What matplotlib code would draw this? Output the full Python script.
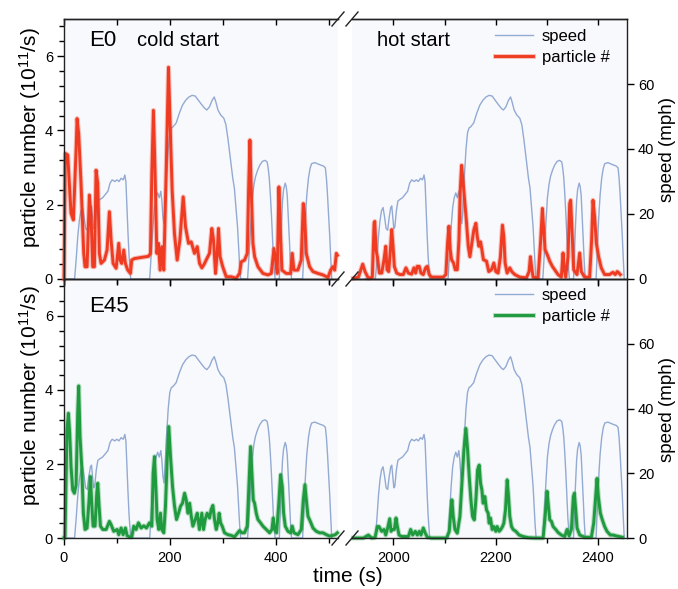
import matplotlib
matplotlib.use("Agg")
import matplotlib.pyplot as plt
import matplotlib.patheffects as pe
from matplotlib.ticker import MultipleLocator, FixedLocator, NullFormatter
from matplotlib.lines import Line2D

plt.rcParams["font.family"] = ["Liberation Sans", "DejaVu Sans"]
plt.rcParams["mathtext.default"] = "regular"

# ---------------- data ----------------
# FTP-75 driving speed (mph) versus cycle time (s)
speed_t = [0, 20, 23, 26, 29, 32, 35, 38, 41, 44, 47, 50, 52, 54, 56, 58, 61, 64, 68, 73, 78, 83, 87, 91,
           96, 100, 104, 108, 112, 115, 117, 119, 121, 123, 125, 126,
           162, 165, 168, 171, 174, 177, 180, 183, 185, 187, 189, 191, 194, 197, 200, 203, 206, 212, 218,
           224, 230, 236, 242, 248, 254, 260, 266, 270, 275, 280, 284, 287, 291, 296, 302, 306, 310, 313,
           316, 319, 322, 325, 328, 330, 332, 334,
           347, 350, 353, 356, 359, 362, 366, 370, 375, 380, 384, 386, 388, 390, 392, 394, 396, 398, 399,
           407, 409, 411, 413, 415, 418, 420, 422, 424, 426, 428, 430,
           451, 453, 455, 457, 459, 462, 465, 468, 474, 480, 486, 490, 494, 496, 498, 500, 502, 504, 506]
speed_v = [0, 0, 6, 13, 18, 21, 22, 19, 15.5, 15, 19, 22, 22.5, 19, 15.5, 16, 21, 24, 24.5, 25, 26, 27, 29.5, 30.5,
           30, 30.5, 30, 31, 30.5, 32, 30, 22, 14, 7, 2, 0,
           0, 8, 16, 22, 25, 26.5, 25, 27, 24, 19, 17, 22, 32, 40, 45, 46.5, 46.8, 48, 51,
           53.5, 55, 56, 56.5, 56.3, 55, 53.7, 52.5, 52, 53, 55, 56, 54.5, 52, 50.5, 49.5, 47.5, 43, 39,
           35, 31, 28, 22, 16, 10, 4, 0,
           0, 8, 17, 25, 29, 31.5, 33.5, 35, 36.2, 36.5, 36, 34, 31, 26, 20, 13, 6, 2, 0,
           0, 9, 17, 24, 27.5, 29.5, 28.5, 25.5, 19, 12, 5, 0,
           0, 7, 15, 21, 26, 31, 34, 35.5, 35.8, 35.4, 35, 34.8, 34.2, 31, 26, 20, 14, 7, 0]
hot_offset = 1945  # start of the hot-start phase on the time axis (s)

# E0 particle number (1e11 /s), cold start
e0_cold_t = [0, 2.5, 7, 13.3, 17.7, 22.8, 24.7, 27.8, 32.2, 37.3, 39.8, 43.6, 48, 51.2, 54.3, 57.5, 60.6,
             63.8, 66.9, 70, 76.4, 81.4, 85.8, 89, 92.8, 98.5, 103.5, 106, 109, 113, 116, 120.5, 125.6, 128,
             133, 145.8, 159.6, 163.4, 166, 169, 172.2, 175.4, 178.5, 181.7, 184.9, 188.6, 193, 197.5,
             200.6, 204.4, 208.8, 213.9, 219, 225.3, 229.7, 235.4, 240.4, 246.7, 251.8, 256.2, 260.6, 265,
             268.7, 275, 279.4, 282.6, 286.4, 289.5, 292, 295, 300, 306.6, 316, 325.5, 331.8, 335, 341.3,
             346.4, 348.9, 351.4, 354, 357.1, 360.3, 366.6, 376, 385.5, 391.8, 396.8, 400, 403, 406.2,
             408.7, 411.9, 420, 428.3, 431.4, 434.5, 442, 448.4, 452.2, 454.7, 457.9, 464.2, 470.5, 480,
             489.4, 498.9, 504, 508.4, 511.6, 514.7, 516.6]
e0_cold_v = [0, 3.38, 3.34, 1.77, 1.59, 3.47, 4.32, 3.9, 2.57, 0.69, 0.33, 0.33, 2.26, 1.67, 0.33, 0.33, 2.93,
             2.57, 0.69, 0.42, 0.51, 0.78, 1.81, 1.05, 0.42, 0.29, 0.96, 0.51, 0.42, 0.78, 0.42, 0.24, 0.15, 0.51,
             0.55, 0.58, 0.61, 0.69, 2.84, 4.54, 2.84, 0.69, 0.96, 0.24, 0.87, 0.24, 2.84, 5.7,
             4.18, 2.39, 1.22, 0.51, 1.05, 2.21, 1.4, 0.96, 1.0, 0.69, 0.87, 0.42, 0.3, 0.4,
             0.51, 0.69, 1.36, 1.05, 0.15, 0.69, 1.36, 0.6, 0.33, 0.06, 0.06, 0.02, 0.15, 0.46, 0.51,
             0.69, 2.39, 3.74, 2.39, 0.96, 0.6, 0.33, 0.15, 0.11, 0.15, 0.82, 0.51, 0.15, 2.48,
             1.4, 0.24, 0.15, 0.15, 0.69, 0.24, 0.24, 0.51, 2.03, 1.75, 0.69, 0.33, 0.2, 0.15,
             0.11, 0.04, 0.24, 0.33, 0.24, 0.69, 0.64]

# E0 particle number, hot start
e0_hot_t = [1922, 1931.8, 1940.3, 1944.8, 1951.3, 1959, 1962.5, 1963.8, 1966.3, 1968.9, 1972.8, 1977.4,
            1981.9, 1985.2, 1987.8, 1991, 1994.3, 1996.9, 1999.5, 2002, 2006.6, 2013, 2019.5, 2024.7,
            2029.3, 2035.8, 2040.3, 2043.6, 2046.8, 2050.7, 2054, 2058.5, 2063, 2066.3, 2070.2, 2074.7,
            2084.5, 2097.5, 2102.7, 2106, 2108.6, 2111.2, 2113.8, 2117.7, 2121, 2124.9, 2128.2, 2130.8,
            2133.4, 2136.6, 2139.9, 2143.1, 2146.4, 2149.6, 2153.5, 2157.4, 2161.3, 2163.9, 2167.2,
            2170.4, 2173, 2176, 2182, 2186.5, 2191.7, 2196.3, 2200.2, 2204.7, 2209.2, 2213.2, 2215.8,
            2218.4, 2222.3, 2227.5, 2231.4, 2237.3, 2247, 2260, 2265.2, 2267.8, 2270.4, 2273, 2282.7,
            2287.9, 2291.2, 2293.8, 2296.4, 2300.9, 2305.5, 2310.7, 2315.2, 2321.7, 2328.2, 2331.5,
            2334.1, 2336.7, 2341.2, 2344.5, 2346.4, 2349, 2352.3, 2358.8, 2364, 2367.2, 2373.7, 2383.5,
            2387.4, 2390, 2393.2, 2396.5, 2401, 2406.2, 2412.7, 2422.4, 2429, 2433.5, 2437.4, 2440.7,
            2443.3]
e0_hot_v = [0.02, 0.05, 0.4, 0.2, 0.02, 0.05, 1.5, 1.55, 0.78, 0.6, 0.16, 0.16,
            0.52, 0.88, 0.25, 0.2, 0.78, 1.33, 0.88, 0.34, 0.16, 0.12, 0.12, 0.3,
            0.16, 0.13, 0.3, 0.16, 0.34, 0.34, 0.16, 0.12, 0.3, 0.34, 0.12, 0.05,
            0.05, 0.05, 0.12, 0.97, 1.42, 0.79, 0.52, 0.43, 0.25, 0.25, 1.05, 2.39,
            3.06, 2.57, 2.03, 1.5, 0.88, 0.6, 0.97, 1.33, 1.5, 1.15, 0.88,
            1.0, 0.79, 0.52, 0.48, 0.2, 0.25, 0.43, 0.2, 0.16, 0.6, 1.45, 1.15,
            0.43, 0.16, 0.3, 0.2, 0.12, 0.05, 0.03, 0.2, 0.6, 0.3, 0.05, 0.03,
            1.05, 1.9, 1.33, 0.79, 0.65, 0.48, 0.34, 0.25, 0.12, 0.05, 0.7,
            0.25, 0.05, 0.6, 2.03, 2.12, 1.33, 0.25, 0.12, 0.7, 0.2, 0.05, 0.05,
            1.05, 2.12, 1.68, 0.97, 0.6, 0.3, 0.12, 0.12, 0.18, 0.12, 0.2, 0.16,
            0.12]

# E45 particle number, cold start
e45_cold_t = [0, 1.9, 5.7, 8.3, 10.8, 13.3, 16.5, 19.6, 22.8, 25.9, 27.8, 30.3, 33.5, 36.6, 39.8, 43.6,
              47.4, 49.9, 52.4, 55, 58.7, 61.9, 63.8, 66.3, 68.9, 73.3, 79.6, 85.8, 89, 94, 100.4, 103.5,
              108, 111.7, 116.1, 119.3, 123.7, 128.1, 131.9, 136.3, 140.7, 145.8, 150.8, 155.8, 161.5,
              166, 168.5, 171, 173.5, 176, 179.2, 182.3, 184.9, 188.6, 191.8, 195, 198.1, 201.3, 205.1,
              208.9, 212.7, 216.5, 220.3, 224, 227.9, 231, 234.2, 237.4, 240.5, 243.6, 248.1, 251.8, 256,
              260.5, 263.7, 266.8, 270.6, 275, 278.2, 281.4, 284.5, 287.7, 290.8, 293.3, 295.9, 299,
              303.4, 309.7, 316, 322.3, 328.6, 331.8, 336.2, 341.2, 346.3, 349.5, 352.6, 355.1, 357.7,
              360.2, 363.4, 366.5, 371.5, 376, 382.3, 388.6, 393, 395.5, 398, 401.8, 405.6, 409.4, 412.5,
              415.1, 418.2, 423.3, 428.3, 431.4, 434.6, 442.2, 448.5, 452.3, 455.4, 458, 461.1, 465.5,
              470.6, 476.9, 483.2, 489.5, 495.8, 502.1, 508.4, 512.8, 516.6]
e45_cold_v = [0, 0, 2.92, 3.37, 2.83, 1.93, 1.3, 1.21, 1.43, 3.37, 4.11, 2.74, 1.93, 0.67, 0.23, 0.27,
              1.03, 1.66, 0.94, 0.32, 0.32, 1.21, 1.48, 0.86, 0.32, 0.23, 0.23, 0.45, 0.36, 0.18, 0.23, 0.09,
              0.27, 0.09, 0.27, 0.06, 0.03, 0.03, 0.32, 0.23, 0.41, 0.27, 0.33, 0.27, 0.41,
              0.32, 1.75, 2.2, 1.39, 0.5, 0.23, 0.67, 0.23, 0.14, 0.86, 2.11, 3.01, 2.2, 1.39,
              0.86, 0.5, 0.67, 0.86, 0.94, 1.21, 1.03, 0.67, 0.94, 0.59, 0.32, 0.5, 0.67, 0.23,
              0.67, 0.23, 0.5, 0.67, 0.54, 0.77, 0.88, 0.5, 0.23, 0.41, 0.67, 0.41, 0.32,
              0.14, 0.09, 0.07, 0.03, 0.14, 0.2, 0.14, 0.14, 0.32, 1.39, 2.47, 1.75, 1.03,
              0.94, 0.67, 0.5, 0.41, 0.32, 0.23, 0.14, 0.23, 0.54, 0.23, 0.14, 0.86, 1.71, 1.39,
              0.67, 0.32, 0.18, 0.14, 0.32, 0.14, 0.09, 0.23, 1.03, 1.44, 1.03, 0.59, 0.45,
              0.27, 0.18, 0.14, 0.14, 0.09, 0.05, 0.07, 0.09, 0.14]

# E45 particle number, hot start
e45_hot_t = [1922, 1941.6, 1951.3, 1957.8, 1964.3, 1968.9, 1972.1, 1977.3, 1981.9, 1985.2, 1989, 1993,
             1995.6, 1998.2, 2002, 2005.3, 2007.9, 2011.2, 2016.4, 2022.9, 2029.4, 2033.9, 2037.8, 2043,
             2046.9, 2050.8, 2054.1, 2058.6, 2062.5, 2066.4, 2074.9, 2091.1, 2104.1, 2109.3, 2112.6,
             2114.5, 2117.1, 2120.4, 2124.9, 2130.1, 2134, 2137.9, 2141.8, 2145.1, 2148.3, 2151.6,
             2154.8, 2158.1, 2161.3, 2164.6, 2167.8, 2170.4, 2173, 2175.5, 2178.8, 2182, 2185.3, 2187.2,
             2189.8, 2193.1, 2196.3, 2200.2, 2202.8, 2206.8, 2210, 2213.3, 2215.9, 2219.1, 2222.4, 2225,
             2227.6, 2230.9, 2234.1, 2239.3, 2245.8, 2253.6, 2263.4, 2276.4, 2292.6, 2296.5, 2300.4,
             2303, 2305.6, 2308.9, 2312.1, 2317.3, 2321.8, 2328.3, 2334.8, 2339.4, 2343.3, 2347.8,
             2351.7, 2353.7, 2356.3, 2358.9, 2364.1, 2373.8, 2386.8, 2391.4, 2395.3, 2397.9, 2400.5,
             2404.4, 2408.3, 2412.8, 2417.4, 2423.9, 2429.1, 2434.3, 2440.8, 2447.3]
e45_hot_v = [0, 0, 0.08, 0, 0.01, 0.31, 0.31, 0.18, 0.23, 0.08, 0.27, 0.52,
             0.18, 0.23, 0.23, 0.54, 0.31, 0.08, 0.04, 0.04, 0.04, 0.23, 0.08, 0.18,
             0.08, 0.18, 0.08, 0.27, 0.13, 0.02, 0, 0, 0, 0.18, 0.76,
             1.03, 0.58, 0.23, 0.13, 0.58, 1.48, 2.38, 2.96, 2.38, 1.66, 1.03,
             0.58, 0.49, 1.03, 1.84, 1.97, 1.48, 1.3, 0.94, 1.12, 0.76, 0.67, 0.4,
             0.54, 0.23, 0.31, 0.18, 0.31, 0.18, 0.23, 0.31, 0.4, 0.76, 1.57, 1.12,
             0.58, 0.31, 0.23, 0.18, 0.08, 0.04, 0.01, 0, 0, 0.58, 1.26,
             0.85, 0.49, 0.45, 0.31, 0.23, 0.15, 0.08, 0.04, 0.23, 0.06, 0.23,
             1.12, 1.21, 0.76, 0.27, 0.08, 0.02, 0.02, 0.4, 1.12, 1.61, 1.12,
             0.67, 0.49, 0.31, 0.18, 0.08, 0.08, 0.06, 0.04, 0.02]

panel_names = ["E0", "E45"]
panel_colors = ["#ef3b22", "#1f9a3e"]
speed_color = "#93aad3"
bg_color = "#f8f9fc"

cold_ticks = [0, 200, 400]
hot_ticks = [2000, 2200, 2400]
pn_ticks = [0, 2, 4, 6]
speed_ticks = [0, 20, 40, 60]

# ---------------- layout (pixel geometry) ----------------
W, H = 678, 589
fig = plt.figure(figsize=(W / 100, H / 100), dpi=100)
fig.patch.set_facecolor("white")


def fx(px):
    return px / W


def fy(py):
    return 1 - py / H


left_span = (64, 338)
right_span = (352, 627)
panel_rows = [(19, 279), (279, 538)]
cold_xlim = (0, (338 - 64.3) / 0.5285)
hot_xlim = (2000 - (393.3 - 352) / 0.512, 2000 + (627 - 393.3) / 0.512)

hot_speed_t = [t + hot_offset for t in speed_t]

series = [
    ((e0_cold_t, e0_cold_v), (e0_hot_t, e0_hot_v)),
    ((e45_cold_t, e45_cold_v), (e45_hot_t, e45_hot_v)),
]

tick_fs = 10.5
for p, ((ct, cv), (ht, hv)) in enumerate(series):
    y0, y1 = panel_rows[p]
    color = panel_colors[p]
    handles = []
    for side, (x0, x1) in enumerate([left_span, right_span]):
        ax = fig.add_axes([fx(x0), fy(y1), (x1 - x0) / W, (y1 - y0) / H])
        tw = ax.twinx()
        ax.set_zorder(tw.get_zorder() + 1)
        ax.patch.set_visible(False)
        tw.patch.set_visible(True)
        tw.patch.set_facecolor(bg_color)

        if side == 0:
            st, tt, tv, xl, xt = speed_t, ct, cv, cold_xlim, cold_ticks
        else:
            st, tt, tv, xl, xt = hot_speed_t, ht, hv, hot_xlim, hot_ticks

        ls, = tw.plot(st, speed_v, color=speed_color, lw=1.0, label="speed")
        lp, = ax.plot(tt, tv, color=color, lw=2.1, label="particle #",
                      solid_joinstyle="round", clip_on=False,
                      path_effects=[pe.Stroke(linewidth=3.6, foreground=color, alpha=0.3),
                                    pe.Normal()])
        handles = [ls, lp]

        ax.set_xlim(*xl)
        ax.set_ylim(0, 7)
        tw.set_ylim(0, 80)

        for s in tw.spines.values():
            s.set_visible(False)
        for s in ax.spines.values():
            s.set_linewidth(1.0)
            s.set_color("#222222")

        # x ticks: outward at the bottom, inward at the top
        ax.xaxis.set_major_locator(FixedLocator(xt))
        ax.xaxis.set_minor_locator(MultipleLocator(100))
        ax.tick_params(axis="x", which="major", direction="out", length=5, width=1,
                       labelsize=tick_fs, pad=4, top=False, labelbottom=(p == 1))
        ax.tick_params(axis="x", which="minor", direction="out", length=3.5, width=1, top=False)
        sec = ax.secondary_xaxis("top")
        sec.xaxis.set_major_locator(MultipleLocator(100))
        sec.xaxis.set_major_formatter(NullFormatter())
        sec.tick_params(axis="x", direction="in", length=4, width=1)
        sec.spines["top"].set_linewidth(1.0)
        sec.spines["top"].set_color("#222222")

        if side == 0:
            ax.spines["right"].set_visible(False)
            ax.yaxis.set_major_locator(FixedLocator(pn_ticks))
            ax.yaxis.set_minor_locator(MultipleLocator(0.4))
            ax.tick_params(axis="y", which="major", direction="out", length=5, width=1,
                           labelsize=tick_fs, pad=3)
            ax.tick_params(axis="y", which="minor", direction="out", length=3.5, width=1)
            tw.tick_params(axis="y", which="both", right=False, labelright=False)
        else:
            ax.spines["left"].set_visible(False)
            ax.tick_params(axis="y", which="both", left=False, labelleft=False, right=False)
            tw.yaxis.set_major_locator(FixedLocator(speed_ticks))
            tw.tick_params(axis="y", which="major", direction="out", length=5, width=1,
                           labelsize=tick_fs, pad=3)

    # panel annotations
    fig.text(fx(89), fy(41 if p == 0 else 307), panel_names[p], fontsize=16,
             ha="left", va="center")
    fig.text(fx(30), fy(138 if p == 0 else 396), "particle number (10$^{11}$/s)",
             fontsize=15, rotation=90, ha="center", va="center")
    fig.text(fx(668), fy(150 if p == 0 else 410), "speed (mph)", fontsize=13.5,
             rotation=90, ha="center", va="center")
    leg_top = 29 if p == 0 else 288
    fig.legend(handles, ["speed", "particle #"], loc="upper left",
               bbox_to_anchor=(fx(495), fy(leg_top)), bbox_transform=fig.transFigure,
               frameon=False, borderpad=0, borderaxespad=0, handlelength=2.28,
               handletextpad=0.52, labelspacing=0.34, fontsize=12)

fig.text(fx(137), fy(41), "cold start", fontsize=14.5, ha="left", va="center")
fig.text(fx(377), fy(41), "hot start", fontsize=14.5, ha="left", va="center")
fig.text(fx(348), fy(576), "time (s)", fontsize=15, ha="center", va="center")

# axis-break marks
for yb in (19, 279, 538):
    for xb in (338, 352):
        fig.add_artist(Line2D([fx(xb - 6), fx(xb + 6)], [fy(yb + 7), fy(yb - 7)],
                              transform=fig.transFigure, color="#222222", lw=1.0))

fig.savefig("out.png", dpi=100, facecolor="white")
